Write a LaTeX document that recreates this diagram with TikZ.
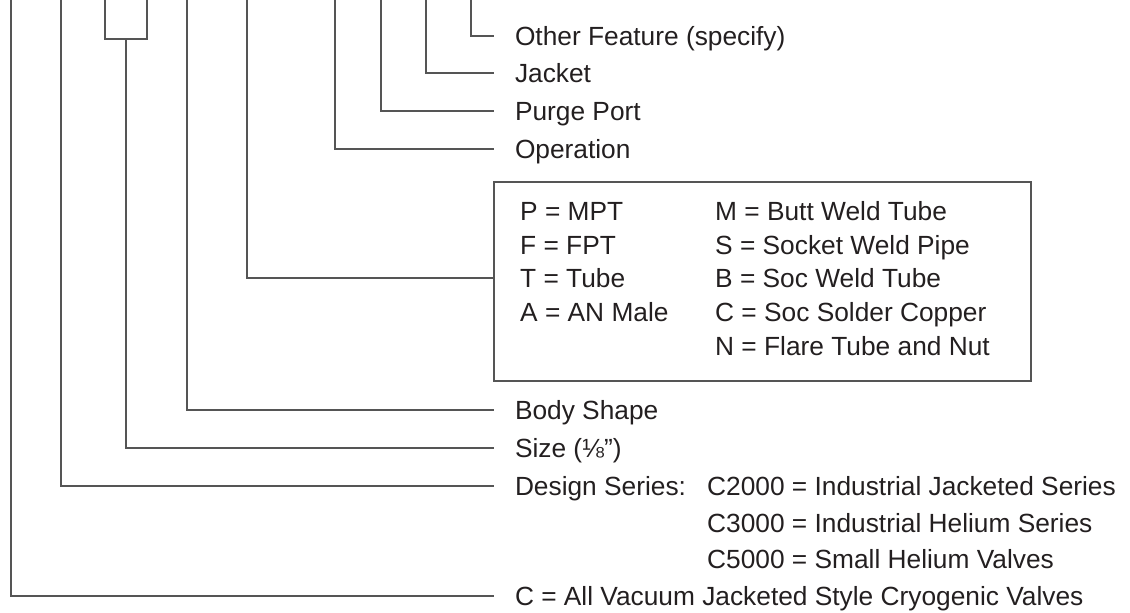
\documentclass[tikz,border=0pt]{standalone}
\usepackage{fontspec}
\setmainfont{Liberation Sans}
\usepackage{xcolor}
\usepackage{tikz}
\usetikzlibrary{positioning,calc}
\definecolor{ink}{HTML}{231F20}
\definecolor{rule}{HTML}{555555}

\begin{document}
\begin{tikzpicture}[
  x=1pt, y=-1pt,
  lead/.style={draw=rule, line width=1.2pt},
  txt/.style={anchor=west, inner sep=0pt, text height=18.8pt, text depth=0pt,
              font=\fontsize{26.3}{30}\selectfont, text=ink},
  lbl/.style={txt, outer xsep=21pt},
  codebox/.style={draw=rule, line width=1.2pt, minimum width=537pt,
                  minimum height=199pt, inner sep=0pt},
]
\useasboundingbox (0,0) rectangle (1130,613);

% labels, top to bottom
\node[lbl] (other)  at (494,36)  {Other Feature (specify)};
\node[lbl] (jacket) at (494,73)  {Jacket};
\node[lbl] (purge)  at (494,111) {Purge Port};
\node[lbl] (oper)   at (494,149) {Operation};

\node[codebox] (ends) at (762.5,281.5) {};
\node[txt] (mpt)  at (520,211) {P = MPT};
\node[txt] (fpt)  at (520,245) {F = FPT};
\node[txt] (tube) at (520,278) {T = Tube};
\node[txt] (anm)  at (520,312) {A = AN Male};
\node[txt] (bwt)  at (715,211) {M = Butt Weld Tube};
\node[txt] (swp)  at (715,245) {S = Socket Weld Pipe};
\node[txt] (swt)  at (715,278) {B = Soc Weld Tube};
\node[txt] (ssc)  at (715,312) {C = Soc Solder Copper};
\node[txt] (ftn)  at (715,346) {N = Flare Tube and Nut};

\node[lbl] (body)   at (494,410) {Body Shape};
\node[lbl] (size)   at (494,448) {Size (⅛”)};
\node[lbl] (design) at (494,486) {Design Series:};
\node[txt] (s2000)  at (707,486) {C2000 = Industrial Jacketed Series};
\node[txt] (s3000)  at (707,523) {C3000 = Industrial Helium Series};
\node[txt] (s5000)  at (707,559) {C5000 = Small Helium Valves};
\node[lbl] (cryo)   at (494,596) {C = All Vacuum Jacketed Style Cryogenic Valves};

% column tops
\foreach \n/\x in {cA/11, cB/61, cS1/105, cS2/147, cD/187, cE/247,
                   cF/335, cG/381, cH/426, cJ/471}
  \coordinate (\n) at (\x,0);
\coordinate (cSm) at (126,39);

\draw[lead] (cJ) |- (other);
\draw[lead] (cH) |- (jacket);
\draw[lead] (cG) |- (purge);
\draw[lead] (cF) |- (oper);
\draw[lead] (cE) |- (ends.west |- tube);
\draw[lead] (cD) |- (body);
\draw[lead] (cS1) |- (cSm) -| (cS2);
\draw[lead] (cSm) |- (size);
\draw[lead] (cB) |- (design);
\draw[lead] (cA) |- (cryo);

\end{tikzpicture}
\end{document}
